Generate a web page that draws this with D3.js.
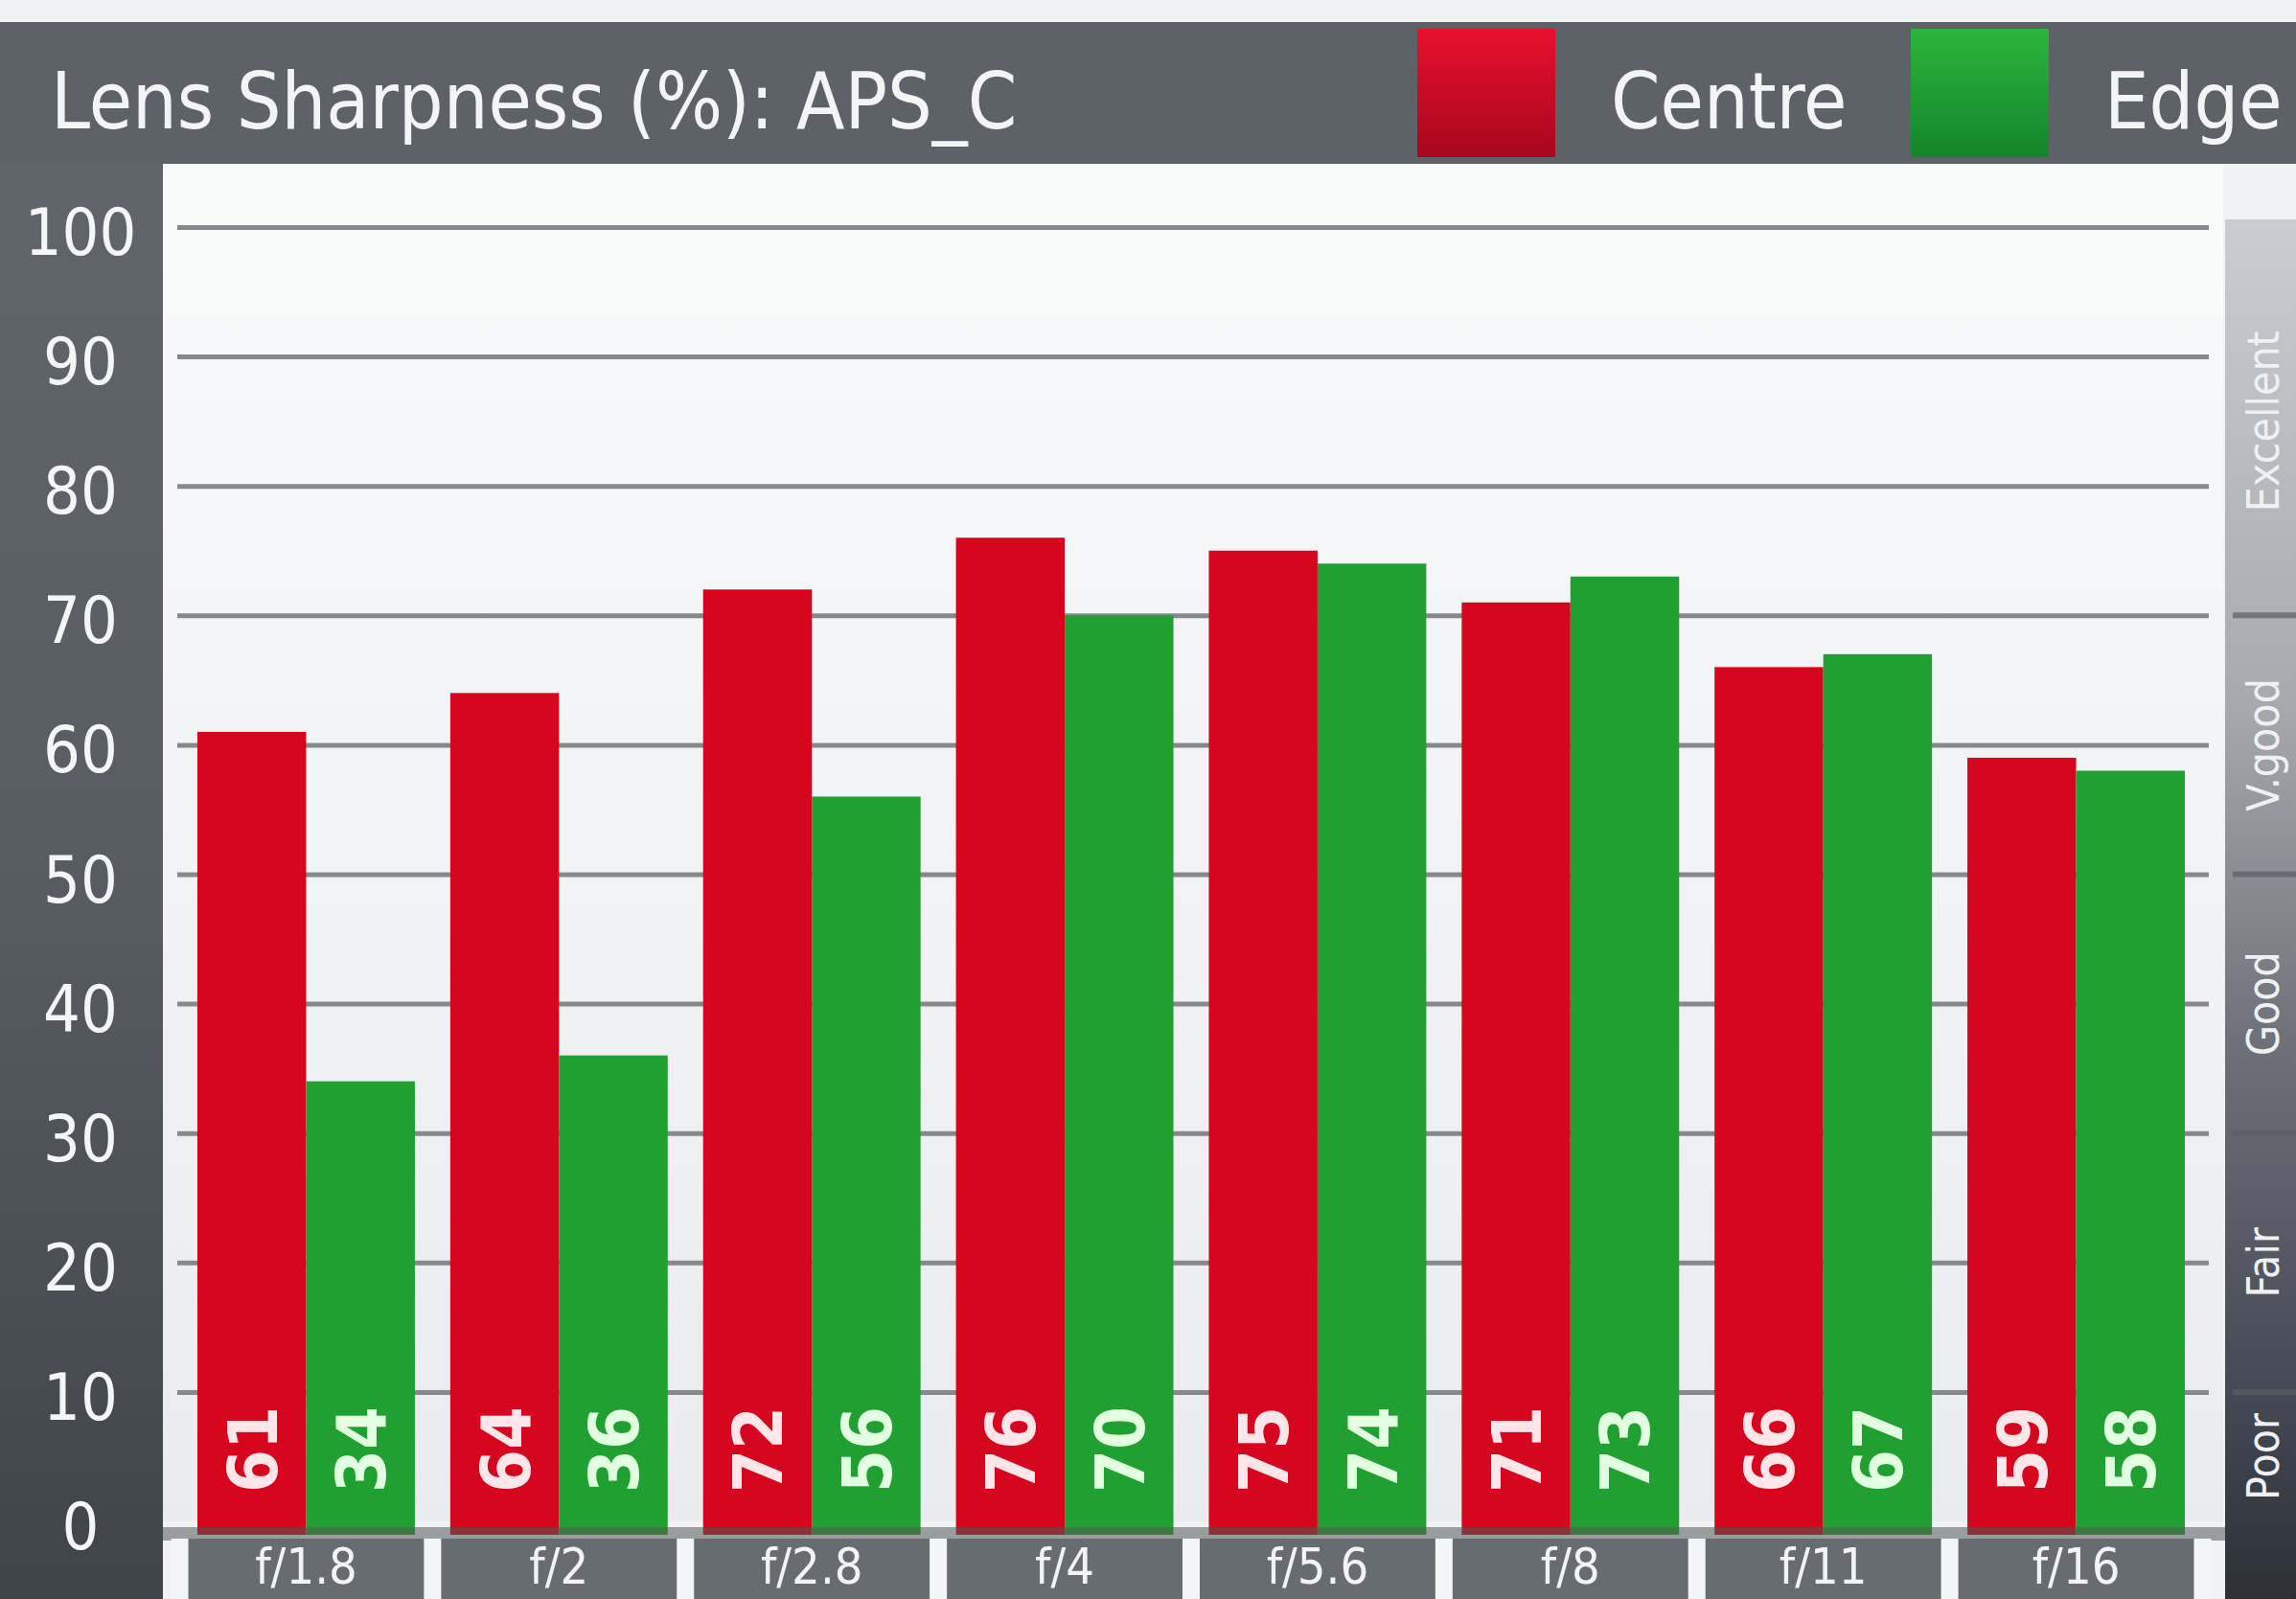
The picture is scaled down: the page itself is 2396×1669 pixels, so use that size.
<!DOCTYPE html>
<html>
<head>
<meta charset="utf-8">
<script src="https://cdnjs.cloudflare.com/ajax/libs/d3/7.8.5/d3.min.js"></script>
<style>
  html, body { margin: 0; padding: 0; background: #f3f4f5; overflow: hidden; }
  svg text { font-family: 'DejaVu Sans Condensed', 'Liberation Sans Narrow', 'DejaVu Sans', sans-serif; font-stretch: condensed; }
</style>
</head>
<body>
<div id="chart"></div>
<script>
let W = 2396, H = 1669;

let apertures = ["f/1.8", "f/2", "f/2.8", "f/4", "f/5.6", "f/8", "f/11", "f/16"];
let series = ["Centre", "Edge"];
let centre = [61, 64, 72, 76, 75, 71, 66, 59];
let edge = [34, 36, 56, 70, 74, 73, 67, 58];
let yTicks = [0, 10, 20, 30, 40, 50, 60, 70, 80, 90, 100];
let ratings = ["Poor", "Fair", "Good", "V.good", "Excellent"];
let ratingBounds = [0, 10, 30, 50, 70, 100];

let title = "Lens Sharpness (%): APS_C";

let data = apertures.map((a, i) => ({ aperture: a, Centre: centre[i], Edge: edge[i] }));

let svg = d3.select('#chart')
            .append('svg')
            .attr('width', W)
            .attr('height', H);

let defs = svg.append('defs');

// grey panel gradients (the photo gets darker towards the bottom)
let leftGrad = defs.append('linearGradient').attr('id', 'leftGrad')
    .attr('x1', 0).attr('y1', 0).attr('x2', 0).attr('y2', 1);
leftGrad.append('stop').attr('offset', '0%').attr('stop-color', '#62676d');
leftGrad.append('stop').attr('offset', '55%').attr('stop-color', '#575c63');
leftGrad.append('stop').attr('offset', '100%').attr('stop-color', '#3f444a');

let stripGrad = defs.append('linearGradient').attr('id', 'stripGrad')
    .attr('x1', 0).attr('y1', 0).attr('x2', 0).attr('y2', 1);
stripGrad.append('stop').attr('offset', '0%').attr('stop-color', '#c9ccd0');
stripGrad.append('stop').attr('offset', '35%').attr('stop-color', '#a6a9ae');
stripGrad.append('stop').attr('offset', '60%').attr('stop-color', '#6d7078');
stripGrad.append('stop').attr('offset', '85%').attr('stop-color', '#454955');
stripGrad.append('stop').attr('offset', '100%').attr('stop-color', '#2c3036');

let plotGrad = defs.append('linearGradient').attr('id', 'plotGrad')
    .attr('x1', 0).attr('y1', 0).attr('x2', 0).attr('y2', 1);
plotGrad.append('stop').attr('offset', '0%').attr('stop-color', '#f9fafa');
plotGrad.append('stop').attr('offset', '100%').attr('stop-color', '#e9ecee');

let redGrad = defs.append('linearGradient').attr('id', 'redGrad')
    .attr('x1', 0).attr('y1', 0).attr('x2', 0).attr('y2', 1);
redGrad.append('stop').attr('offset', '0%').attr('stop-color', '#e8102e');
redGrad.append('stop').attr('offset', '100%').attr('stop-color', '#a8061c');
let greenGrad = defs.append('linearGradient').attr('id', 'greenGrad')
    .attr('x1', 0).attr('y1', 0).attr('x2', 0).attr('y2', 1);
greenGrad.append('stop').attr('offset', '0%').attr('stop-color', '#2cb53c');
greenGrad.append('stop').attr('offset', '100%').attr('stop-color', '#12852a');

// scales
let x = d3.scaleBand()
          .domain(apertures)
          .range([206, 2280])
          .paddingInner(0.14)
          .paddingOuter(0);

let xs = d3.scaleBand()
           .domain(series)
           .range([0, x.bandwidth()]);

let y = d3.scaleLinear()
          .domain([0, 100])
          .range([1588, 237]);

let color = d3.scaleOrdinal()
              .domain(series)
              .range(['#d6061f', '#21a032']);
let legendFill = d3.scaleOrdinal()
              .domain(series)
              .range(['url(#redGrad)', 'url(#greenGrad)']);
let labelColor = d3.scaleOrdinal()
              .domain(series)
              .range(['#ffe6ea', '#e2ffe2']);

// background pieces
svg.append('rect').attr('x', 0).attr('y', 0).attr('width', W).attr('height', H).attr('fill', '#f1f2f3');
svg.append('rect').attr('x', 0).attr('y', 23).attr('width', 170).attr('height', H - 23).attr('fill', 'url(#leftGrad)');
svg.append('rect').attr('x', 0).attr('y', 23).attr('width', W).attr('height', 148).attr('fill', '#5d6268');
svg.append('rect').attr('x', 170).attr('y', 171).attr('width', 2150).attr('height', y(0) - 171).attr('fill', 'url(#plotGrad)');

// rating strip on the right
let step = x.step();
let stripX = 2322;
svg.append('rect').attr('x', stripX).attr('y', y(100) - 8).attr('width', W - stripX).attr('height', H - y(100) + 8)
    .attr('fill', 'url(#stripGrad)');

let ratingBands = ratings.map((r, i) => ({ name: r, lo: ratingBounds[i], hi: ratingBounds[i + 1] }));

svg.append('g')
    .selectAll('line')
    .data(ratingBands.slice(1))
    .enter()
    .append('line')
        .attr('x1', stripX + 8).attr('x2', W)
        .attr('y1', d => y(d.lo)).attr('y2', d => y(d.lo))
        .attr('stroke', '#5a5e66')
        .attr('stroke-width', 6)
        .attr('opacity', 0.7);

svg.append('g')
    .selectAll('text')
    .data(ratingBands)
    .enter()
    .append('text')
        .attr('transform', d => 'translate(' + 2378 + ',' + y((d.lo + d.hi) / 2) + ') rotate(-90)')
        .attr('text-anchor', 'middle')
        .attr('fill', '#eef0f2')
        .style('font-size', '46px')
        .text(d => d.name);

// gridlines
let grid = svg.append('g')
    .attr('transform', 'translate(185,0)')
    .call(d3.axisLeft(y).tickValues(yTicks.filter(t => t > 0)).tickSize(-2120).tickFormat(''));
grid.select('.domain').remove();
grid.selectAll('.tick line').attr('stroke', '#86898c').attr('stroke-width', 5);

// y axis labels in the dark panel
let yAxis = svg.append('g')
    .attr('transform', 'translate(84,0)')
    .call(d3.axisLeft(y).tickValues(yTicks).tickSize(0).tickPadding(0));
yAxis.select('.domain').remove();
yAxis.selectAll('text')
    .attr('text-anchor', 'middle')
    .attr('dy', '0.42em')
    .attr('fill', '#f4f5f6')
    .style('font-size', '68px');

// bars
let groups = svg.append('g')
    .selectAll('g')
    .data(data)
    .enter()
    .append('g')
        .attr('transform', d => 'translate(' + x(d.aperture) + ',0)');

groups.selectAll('rect')
    .data(d => series.map(s => ({ key: s, value: d[s] })))
    .enter()
    .append('rect')
        .attr('x', d => xs(d.key))
        .attr('y', d => y(d.value))
        .attr('width', xs.bandwidth())
        .attr('height', d => y(0) - y(d.value) + 14)
        .attr('fill', d => color(d.key));

groups.selectAll('text')
    .data(d => series.map(s => ({ key: s, value: d[s] })))
    .enter()
    .append('text')
        .attr('transform', d => 'translate(' + (xs(d.key) + xs.bandwidth() / 2) + ',' + (y(0) - 30) + ') rotate(-90)')
        .attr('dy', '0.36em')
        .attr('text-anchor', 'start')
        .attr('fill', d => labelColor(d.key))
        .style('font-size', '72px')
        .style('font-weight', 'bold')
        .text(d => d.value);

// dark band under the bars, then the label boxes
svg.append('rect').attr('x', 170).attr('y', y(0) + 6).attr('width', stripX - 170).attr('height', 14).attr('fill', '#4f5a56').attr('opacity', 0.55);

svg.append('g')
    .selectAll('rect')
    .data(apertures)
    .enter()
    .append('rect')
        .attr('x', d => x(d) - step * x.paddingInner() / 2)
        .attr('y', y(0) + 18)
        .attr('width', step)
        .attr('height', H - y(0) - 18)
        .attr('fill', '#676c71');

svg.append('g')
    .selectAll('rect')
    .data(apertures.concat(['end']))
    .enter()
    .append('rect')
        .attr('x', (d, i) => x.range()[0] + i * step - step * x.paddingInner() / 2 - 9)
        .attr('y', y(0) + 18)
        .attr('width', 18)
        .attr('height', H - y(0) - 18)
        .attr('fill', '#f3f6f6');

let xAxis = svg.append('g')
    .attr('transform', 'translate(0,' + (y(0) + 18) + ')')
    .call(d3.axisBottom(x).tickSize(0).tickPadding(0));
xAxis.select('.domain').remove();
xAxis.selectAll('text')
    .attr('dy', 0)
    .attr('y', 47)
    .attr('fill', '#f2f3f5')
    .style('font-size', '52px');

// header: title + legend
svg.append('text')
    .attr('x', 53)
    .attr('y', 134)
    .attr('fill', '#f3f4f5')
    .style('font-size', '82px')
    .text(title);

let legendX = d3.scaleOrdinal().domain(series).range([1479, 1994]);
let legend = svg.append('g')
    .selectAll('g')
    .data(series)
    .enter()
    .append('g')
        .attr('transform', d => 'translate(' + legendX(d) + ',0)');
legend.append('rect')
    .attr('x', 0).attr('y', 30)
    .attr('width', 144).attr('height', 134)
    .attr('fill', d => legendFill(d));
legend.append('text')
    .attr('x', 202)
    .attr('y', 134)
    .attr('fill', '#f3f4f5')
    .style('font-size', '82px')
    .text(d => d);
</script>
</body>
</html>
